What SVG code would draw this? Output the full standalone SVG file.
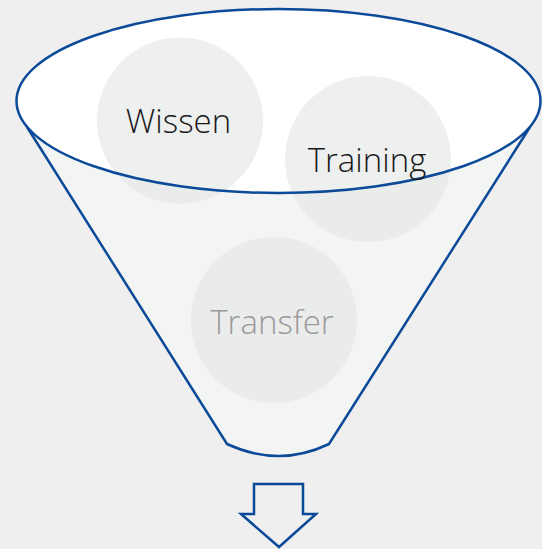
<svg xmlns="http://www.w3.org/2000/svg" width="542" height="549" viewBox="0 0 542 549">
<style>
.ln{fill:none;stroke:#0b4a98;stroke-width:2.5;stroke-linejoin:miter}
.circ{fill:#e5e6e6;fill-opacity:0.65}
.lbl{font-family:"Open Sans","Liberation Sans",sans-serif;font-weight:300;font-size:33px;text-anchor:middle}
</style>
<rect width="542" height="549" fill="#efefef"/>
<g id="funnel">
<path d="M27,127 L227,444 Q279,468 329,444 L530,127 Z" fill="#f3f4f4" stroke="none"/>
<path class="ln" d="M27,127 L227,444 Q279,468 329,444 L530,127"/>
<ellipse cx="278.5" cy="101" rx="262" ry="92" fill="#ffffff"/>
</g>
<g id="wissen">
<circle class="circ" cx="180" cy="120.5" r="83"/>
</g>
<g id="training">
<circle class="circ" cx="368" cy="159" r="83"/>
</g>
<g id="transfer">
<circle class="circ" cx="274" cy="320" r="83"/>
</g>
<g id="rim">
<ellipse class="ln" cx="278.5" cy="101" rx="262" ry="92"/>
</g>
<text class="lbl" x="178.5" y="133" fill="#1a1a1a">Wissen</text>
<text class="lbl" x="367" y="172" fill="#1a1a1a">Training</text>
<text class="lbl" x="272" y="334" fill="#9a9a9a">Transfer</text>
<g id="connectors">
<polygon class="ln" points="254,484 303,484 303,514 316,514 279,547 241,514 254,514"/>
</g>
</svg>
